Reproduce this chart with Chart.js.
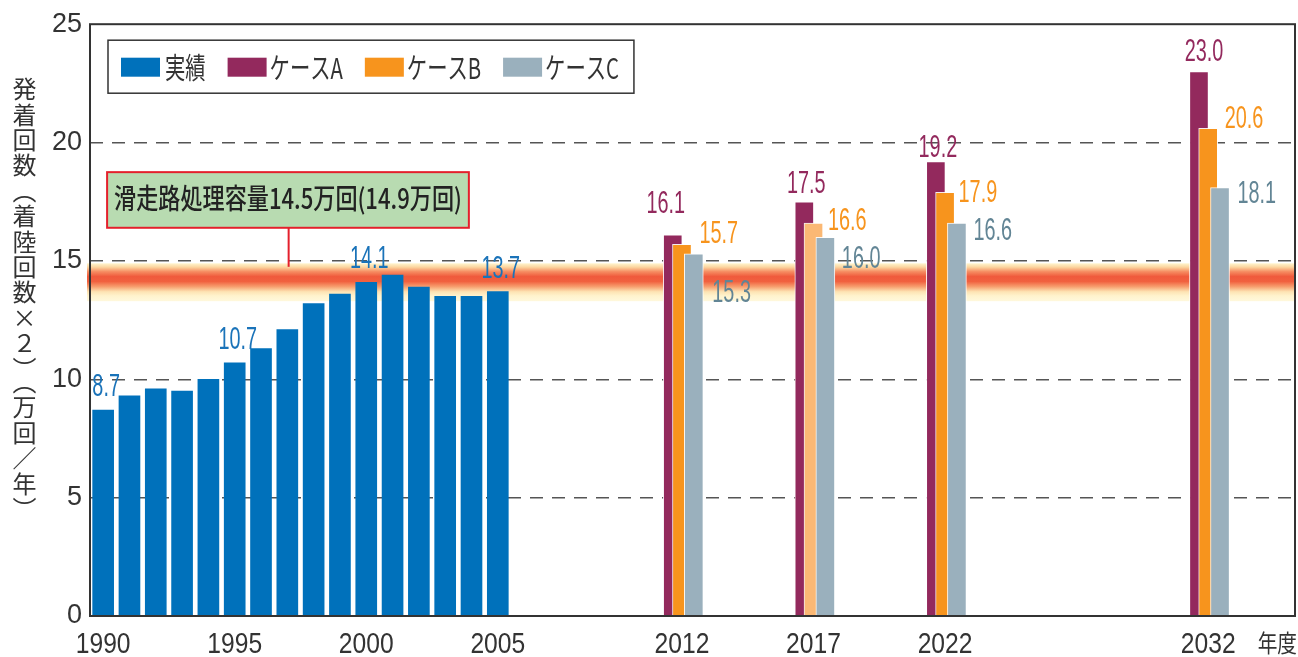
<!DOCTYPE html>
<html lang="ja">
<head>
<meta charset="utf-8">
<title>発着回数の実績と予測</title>
<script src="https://cdn.jsdelivr.net/npm/chart.js@4.4.1/dist/chart.umd.min.js"></script>
<style>
  html, body { margin: 0; padding: 0; background: #fff; }
  #wrap { position: relative; width: 1298px; height: 657px; }
  #c { display: block; }
  #ytitle {
    position: absolute; left: 11px; top: 77px;
    writing-mode: vertical-rl;
    font-family: "Noto Sans CJK JP", sans-serif;
    font-size: 24px; line-height: 26px; color: #333;
    letter-spacing: 1.4px;
  }
</style>
</head>
<body>
<div id="wrap">
  <canvas id="c" width="1298" height="657"></canvas>
  <div id="ytitle">発着回数（着陸回数×２）（万回／年）</div>
</div>
<script>
// ---- data ----
const actualYears  = [1990, 1991, 1992, 1993, 1994, 1995, 1996, 1997, 1998, 1999, 2000, 2001, 2002, 2003, 2004, 2005];
const actualValues = [8.7, 9.3, 9.6, 9.5, 10.0, 10.7, 11.3, 12.1, 13.2, 13.6, 14.1, 14.4, 13.9, 13.5, 13.5, 13.7];
const labelledActualYears = [1990, 1995, 2000, 2005];

const forecastYears = [2012, 2017, 2022, 2032];
const caseA = [16.1, 17.5, 19.2, 23.0];
const caseB = [15.7, 16.6, 17.9, 20.6];
const caseC = [15.3, 16.0, 16.6, 18.1];

const yearTicks = [1990, 1995, 2000, 2005, 2012, 2017, 2022, 2032];
const seriesNames = ['実績', 'ケースA', 'ケースB', 'ケースC'];
const capacityText = '滑走路処理容量14.5万回(14.9万回)';
const capacityBandLow = 13.3;
const capacityBandHigh = 14.9;
const xUnitText = '年度';

// ---- styling ----
const COLORS = {
  actual: '#0071bb', A: '#93295d', B: '#f7941d', Blight: '#fbb874', C: '#9ab0bd',
  actualLabel: '#1a73b9', ALabel: '#93295d', BLabel: '#f7941d', CLabel: '#628595',
  text: '#333333', frame: '#333333'
};
const X_MIN = 1989.5, X_MAX = 2035.3;
// horizontal shift (in years) of each forecast case inside its year group
const CASE_SHIFT = { A: -0.35, B: 0, C: 0.45 };
// value-label nudges in pixels [dx, dy] per forecast year
const NUDGE_A = [[-7, -22], [2, -9], [2, -4], [5, -11]];
const NUDGE_B = [[8, -1], [5, 7], [4, 10], [7, 0]];
const NUDGE_C = [[9, 48], [7, 31], [7, 17], [8, 15]];

const NUM_FONT = '"Liberation Sans", Arial, sans-serif';
const JP_FONT = '"Noto Sans CJK JP", sans-serif';

function pts(xs, ys) { return xs.map((x, i) => ({ x, y: ys[i] })); }

function drawScaled(ctx, text, x, y, font, color, align, sx, baseline) {
  ctx.save();
  ctx.font = font;
  ctx.fillStyle = color;
  ctx.textAlign = 'left';
  ctx.textBaseline = baseline || 'alphabetic';
  const w = ctx.measureText(text).width * sx;
  const left = align === 'center' ? x - w / 2 : (align === 'right' ? x - w : x);
  ctx.translate(left, y);
  ctx.scale(sx, 1);
  ctx.fillText(text, 0, 0);
  ctx.restore();
  return w;
}

const overlay = {
  id: 'overlay',
  beforeDatasetsDraw(chart) {
    const { ctx, chartArea, scales: { y } } = chart;
    const top = y.getPixelForValue(capacityBandHigh);
    const bot = y.getPixelForValue(capacityBandLow);
    const g = ctx.createLinearGradient(0, top, 0, bot);
    g.addColorStop(0.00, '#fff5cf');
    g.addColorStop(0.10, '#fcd6a0');
    g.addColorStop(0.22, '#f68d62');
    g.addColorStop(0.35, '#f05a3c');
    g.addColorStop(0.48, '#f1613f');
    g.addColorStop(0.62, '#f7a070');
    g.addColorStop(0.75, '#fde3b3');
    g.addColorStop(0.86, '#fff3cd');
    g.addColorStop(1.00, '#fff8dc');
    ctx.save();
    ctx.fillStyle = g;
    ctx.fillRect(chartArea.left - 3, top, chartArea.right - chartArea.left + 3, bot - top);
    ctx.restore();
  },
  afterDatasetsDraw(chart) {
    const { ctx, chartArea: ca, scales: { x, y } } = chart;

    // frame
    ctx.save();
    ctx.strokeStyle = COLORS.frame;
    ctx.lineWidth = 2;
    ctx.strokeRect(ca.left, ca.top, ca.right - ca.left, ca.bottom - ca.top);
    ctx.restore();

    // year labels, condensed, placed at the x scale's ticks
    x.ticks.forEach(t => {
      drawScaled(ctx, String(t.value), x.getPixelForValue(t.value), ca.bottom + 37,
        '29px ' + NUM_FONT, COLORS.text, 'center', 0.85);
    });

    // value labels
    const LF = '32px ' + NUM_FONT, SX = 0.62;
    const mAct = chart.getDatasetMeta(0);
    actualYears.forEach((yr, i) => {
      if (!labelledActualYears.includes(yr)) return;
      const el = mAct.data[i];
      drawScaled(ctx, actualValues[i].toFixed(1), el.x + 3, el.y - 14, LF, COLORS.actualLabel, 'center', SX);
    });
    const mA = chart.getDatasetMeta(1), mB = chart.getDatasetMeta(2), mC = chart.getDatasetMeta(3);
    forecastYears.forEach((yr, i) => {
      let el = mA.data[i];
      drawScaled(ctx, caseA[i].toFixed(1), el.x + NUDGE_A[i][0], el.y + NUDGE_A[i][1], LF, COLORS.ALabel, 'center', SX);
      el = mB.data[i];
      drawScaled(ctx, caseB[i].toFixed(1), el.x + el.width / 2 + NUDGE_B[i][0], el.y + NUDGE_B[i][1], LF, COLORS.BLabel, 'left', SX);
      el = mC.data[i];
      drawScaled(ctx, caseC[i].toFixed(1), el.x + el.width / 2 + NUDGE_C[i][0], el.y + NUDGE_C[i][1], LF, COLORS.CLabel, 'left', SX);
    });

    // capacity callout
    const bx0 = x.getPixelForValue(1990.15), bx1 = x.getPixelForValue(2003.9);
    const by0 = y.getPixelForValue(18.75), by1 = y.getPixelForValue(16.4);
    const lx = x.getPixelForValue(1997.05), ly = y.getPixelForValue(14.75);
    ctx.save();
    ctx.strokeStyle = '#e4202c';
    ctx.lineWidth = 2;
    ctx.beginPath(); ctx.moveTo(lx, by1); ctx.lineTo(lx, ly); ctx.stroke();
    ctx.fillStyle = '#b8dbb1';
    ctx.fillRect(bx0, by0, bx1 - bx0, by1 - by0);
    ctx.strokeRect(bx0, by0, bx1 - bx0, by1 - by0);
    ctx.font = '500 28px ' + JP_FONT;
    const natural = ctx.measureText(capacityText).width;
    const inner = (bx1 - bx0) - 14;
    ctx.restore();
    drawScaled(ctx, capacityText, (bx0 + bx1) / 2, (by0 + by1) / 2 - 2, '500 28px ' + JP_FONT, '#222', 'center', inner / natural, 'middle');

    // legend
    const lgLeft = ca.left + 18, lgTop = ca.top + 16, lgH = 53;
    const sw = 39, swH = 19, LGF = '29px ' + JP_FONT, LSX = 0.70;
    const swColors = [COLORS.actual, COLORS.A, COLORS.B, COLORS.C];
    let cx = lgLeft + 13;
    const items = [];
    seriesNames.forEach((name, i) => {
      items.push({ x: cx, color: swColors[i], name, tx: cx + sw + (i === 0 ? 5 : 3) });
      ctx.save(); ctx.font = LGF; const w = ctx.measureText(name).width * LSX; ctx.restore();
      cx = items[i].tx + w + 22;
    });
    const lgRight = cx - 22 + 15;
    ctx.save();
    ctx.fillStyle = '#fff';
    ctx.fillRect(lgLeft, lgTop, lgRight - lgLeft, lgH);
    ctx.strokeStyle = COLORS.frame;
    ctx.lineWidth = 1.5;
    ctx.strokeRect(lgLeft, lgTop, lgRight - lgLeft, lgH);
    ctx.restore();
    const midY = lgTop + lgH / 2 + 0.5;
    items.forEach(it => {
      ctx.save();
      ctx.fillStyle = it.color;
      ctx.fillRect(it.x, midY - swH / 2, sw, swH);
      ctx.restore();
      drawScaled(ctx, it.name, it.tx, midY + 1, LGF, COLORS.text, 'left', LSX, 'middle');
    });

    // unit of the year axis
    drawScaled(ctx, xUnitText, chart.width - 1, ca.bottom + 27, '24px ' + JP_FONT, COLORS.text, 'right', 0.82, 'middle');
  }
};

const shiftedAxis = (shift) => ({
  type: 'linear', axis: 'x', display: false, offset: false,
  min: X_MIN - shift, max: X_MAX - shift
});

const forecastCommon = {
  grouped: false, barPercentage: 1, categoryPercentage: 1, maxBarThickness: 19,
  borderColor: 'rgba(255,255,255,0.9)', borderWidth: 1
};

new Chart(document.getElementById('c'), {
  type: 'bar',
  data: {
    datasets: [
      { label: seriesNames[0], data: pts(actualYears, actualValues), xAxisID: 'x',
        backgroundColor: COLORS.actual, grouped: false, barPercentage: 1, categoryPercentage: 1,
        maxBarThickness: 21, order: 0 },
      Object.assign({ label: seriesNames[1], data: pts(forecastYears, caseA), xAxisID: 'xA',
        backgroundColor: COLORS.A, order: 3 }, forecastCommon),
      Object.assign({ label: seriesNames[2], data: pts(forecastYears, caseB), xAxisID: 'xB',
        backgroundColor: forecastYears.map(yr => yr === 2017 ? COLORS.Blight : COLORS.B), order: 2 }, forecastCommon),
      Object.assign({ label: seriesNames[3], data: pts(forecastYears, caseC), xAxisID: 'xC',
        backgroundColor: COLORS.C, order: 1 }, forecastCommon)
    ]
  },
  options: {
    responsive: false,
    animation: false,
    devicePixelRatio: 1,
    layout: { padding: { top: 16, right: 3, left: 0, bottom: 0 } },
    plugins: { legend: { display: false }, tooltip: { enabled: false } },
    scales: {
      x: {
        type: 'linear', position: 'bottom', min: X_MIN, max: X_MAX, offset: false,
        afterFit(s) { s.height = 41; },
        afterBuildTicks(s) { s.ticks = yearTicks.map(v => ({ value: v })); },
        ticks: { display: false, autoSkip: false },
        grid: { display: false, drawTicks: false },
        border: { display: false }
      },
      xA: shiftedAxis(CASE_SHIFT.A),
      xB: shiftedAxis(CASE_SHIFT.B),
      xC: shiftedAxis(CASE_SHIFT.C),
      y: {
        type: 'linear', min: 0, max: 25,
        afterFit(s) { s.width = 90; },
        ticks: {
          stepSize: 5, padding: 8, color: COLORS.text,
          font: { family: NUM_FONT, size: 27 }
        },
        grid: {
          drawTicks: false, lineWidth: 1.5,
          color: c => (c.tick && (c.tick.value === 0 || c.tick.value === 25)) ? 'rgba(0,0,0,0)' : '#555'
        },
        border: { display: false, dash: [13, 9] }
      }
    }
  },
  plugins: [overlay]
});
</script>
</body>
</html>
